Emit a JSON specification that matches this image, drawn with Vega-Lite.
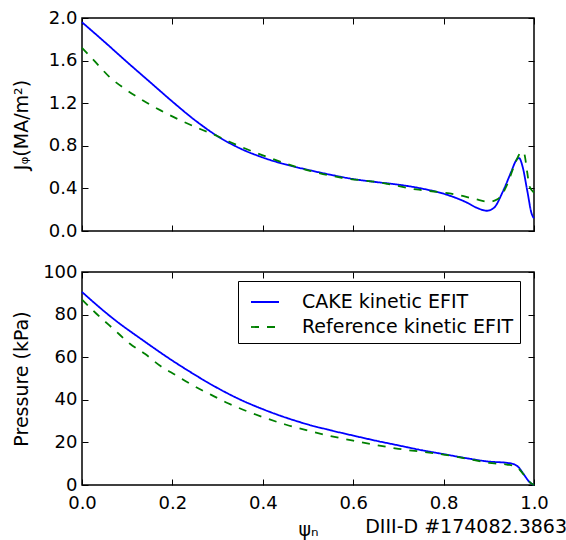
{
  "$schema": "https://vega.github.io/schema/vega-lite/v6.json",
  "padding": {"left": 11, "top": 8, "right": 0, "bottom": 0},
  "background": "white",
  "config": {
    "font": "DejaVu Sans",
    "view": {"stroke": "black", "strokeWidth": 1.5},
    "axis": {
      "domain": false, "grid": false, "tickSize": -6, "tickColor": "black", "tickWidth": 1,
      "labelFont": "DejaVu Sans", "labelFontSize": 18, "labelColor": "black", "labelPadding": 11,
      "labelFlush": false, "labelOverlap": false,
      "titleFont": "DejaVu Sans", "titleFontSize": 19, "titleFontWeight": "normal", "titleColor": "black"
    },
    "legend": {"labelFont": "DejaVu Sans", "labelFontSize": 19, "labelColor": "black"}
  },
  "resolve": {"scale": {"color": "independent", "strokeDash": "independent"}, "legend": {"color": "independent", "strokeDash": "independent"}},
  "datasets": {
    "j": [
      {"psi": 0.0, "J": 1.96, "series": "CAKE kinetic EFIT"},
      {"psi": 0.05, "J": 1.775, "series": "CAKE kinetic EFIT"},
      {"psi": 0.1, "J": 1.585, "series": "CAKE kinetic EFIT"},
      {"psi": 0.15, "J": 1.4, "series": "CAKE kinetic EFIT"},
      {"psi": 0.2, "J": 1.215, "series": "CAKE kinetic EFIT"},
      {"psi": 0.25, "J": 1.04, "series": "CAKE kinetic EFIT"},
      {"psi": 0.3, "J": 0.89, "series": "CAKE kinetic EFIT"},
      {"psi": 0.35, "J": 0.775, "series": "CAKE kinetic EFIT"},
      {"psi": 0.4, "J": 0.69, "series": "CAKE kinetic EFIT"},
      {"psi": 0.45, "J": 0.625, "series": "CAKE kinetic EFIT"},
      {"psi": 0.5, "J": 0.574, "series": "CAKE kinetic EFIT"},
      {"psi": 0.55, "J": 0.528, "series": "CAKE kinetic EFIT"},
      {"psi": 0.6, "J": 0.488, "series": "CAKE kinetic EFIT"},
      {"psi": 0.65, "J": 0.46, "series": "CAKE kinetic EFIT"},
      {"psi": 0.7, "J": 0.435, "series": "CAKE kinetic EFIT"},
      {"psi": 0.75, "J": 0.4, "series": "CAKE kinetic EFIT"},
      {"psi": 0.8, "J": 0.35, "series": "CAKE kinetic EFIT"},
      {"psi": 0.85, "J": 0.27, "series": "CAKE kinetic EFIT"},
      {"psi": 0.875, "J": 0.215, "series": "CAKE kinetic EFIT"},
      {"psi": 0.896, "J": 0.19, "series": "CAKE kinetic EFIT"},
      {"psi": 0.912, "J": 0.22, "series": "CAKE kinetic EFIT"},
      {"psi": 0.93, "J": 0.36, "series": "CAKE kinetic EFIT"},
      {"psi": 0.95, "J": 0.56, "series": "CAKE kinetic EFIT"},
      {"psi": 0.96, "J": 0.66, "series": "CAKE kinetic EFIT"},
      {"psi": 0.967, "J": 0.685, "series": "CAKE kinetic EFIT"},
      {"psi": 0.975, "J": 0.6, "series": "CAKE kinetic EFIT"},
      {"psi": 0.985, "J": 0.38, "series": "CAKE kinetic EFIT"},
      {"psi": 0.995, "J": 0.16, "series": "CAKE kinetic EFIT"},
      {"psi": 1.0, "J": 0.12, "series": "CAKE kinetic EFIT"},
      {"psi": 0.0, "J": 1.72, "series": "Reference kinetic EFIT"},
      {"psi": 0.03, "J": 1.585, "series": "Reference kinetic EFIT"},
      {"psi": 0.06, "J": 1.45, "series": "Reference kinetic EFIT"},
      {"psi": 0.1, "J": 1.32, "series": "Reference kinetic EFIT"},
      {"psi": 0.135, "J": 1.225, "series": "Reference kinetic EFIT"},
      {"psi": 0.175, "J": 1.13, "series": "Reference kinetic EFIT"},
      {"psi": 0.215, "J": 1.045, "series": "Reference kinetic EFIT"},
      {"psi": 0.26, "J": 0.96, "series": "Reference kinetic EFIT"},
      {"psi": 0.3, "J": 0.89, "series": "Reference kinetic EFIT"},
      {"psi": 0.325, "J": 0.84, "series": "Reference kinetic EFIT"},
      {"psi": 0.4, "J": 0.71, "series": "Reference kinetic EFIT"},
      {"psi": 0.45, "J": 0.635, "series": "Reference kinetic EFIT"},
      {"psi": 0.5, "J": 0.57, "series": "Reference kinetic EFIT"},
      {"psi": 0.575, "J": 0.5, "series": "Reference kinetic EFIT"},
      {"psi": 0.66, "J": 0.455, "series": "Reference kinetic EFIT"},
      {"psi": 0.74, "J": 0.39, "series": "Reference kinetic EFIT"},
      {"psi": 0.79, "J": 0.365, "series": "Reference kinetic EFIT"},
      {"psi": 0.83, "J": 0.34, "series": "Reference kinetic EFIT"},
      {"psi": 0.87, "J": 0.3, "series": "Reference kinetic EFIT"},
      {"psi": 0.9, "J": 0.275, "series": "Reference kinetic EFIT"},
      {"psi": 0.92, "J": 0.3, "series": "Reference kinetic EFIT"},
      {"psi": 0.94, "J": 0.43, "series": "Reference kinetic EFIT"},
      {"psi": 0.955, "J": 0.6, "series": "Reference kinetic EFIT"},
      {"psi": 0.965, "J": 0.7, "series": "Reference kinetic EFIT"},
      {"psi": 0.972, "J": 0.745, "series": "Reference kinetic EFIT"},
      {"psi": 0.978, "J": 0.73, "series": "Reference kinetic EFIT"},
      {"psi": 0.985, "J": 0.55, "series": "Reference kinetic EFIT"},
      {"psi": 0.99, "J": 0.42, "series": "Reference kinetic EFIT"},
      {"psi": 1.0, "J": 0.36, "series": "Reference kinetic EFIT"}
    ],
    "p": [
      {"psi": 0.0, "P": 90.6, "series": "CAKE kinetic EFIT"},
      {"psi": 0.069, "P": 78.1, "series": "CAKE kinetic EFIT"},
      {"psi": 0.135, "P": 67.9, "series": "CAKE kinetic EFIT"},
      {"psi": 0.2, "P": 58.4, "series": "CAKE kinetic EFIT"},
      {"psi": 0.24, "P": 53.0, "series": "CAKE kinetic EFIT"},
      {"psi": 0.3, "P": 45.5, "series": "CAKE kinetic EFIT"},
      {"psi": 0.35, "P": 40.1, "series": "CAKE kinetic EFIT"},
      {"psi": 0.4, "P": 35.6, "series": "CAKE kinetic EFIT"},
      {"psi": 0.45, "P": 31.7, "series": "CAKE kinetic EFIT"},
      {"psi": 0.5, "P": 28.4, "series": "CAKE kinetic EFIT"},
      {"psi": 0.55, "P": 25.7, "series": "CAKE kinetic EFIT"},
      {"psi": 0.6, "P": 23.2, "series": "CAKE kinetic EFIT"},
      {"psi": 0.65, "P": 20.8, "series": "CAKE kinetic EFIT"},
      {"psi": 0.7, "P": 18.6, "series": "CAKE kinetic EFIT"},
      {"psi": 0.75, "P": 16.4, "series": "CAKE kinetic EFIT"},
      {"psi": 0.8, "P": 14.5, "series": "CAKE kinetic EFIT"},
      {"psi": 0.85, "P": 12.6, "series": "CAKE kinetic EFIT"},
      {"psi": 0.9, "P": 11.0, "series": "CAKE kinetic EFIT"},
      {"psi": 0.94, "P": 10.4, "series": "CAKE kinetic EFIT"},
      {"psi": 0.955, "P": 9.8, "series": "CAKE kinetic EFIT"},
      {"psi": 0.965, "P": 8.5, "series": "CAKE kinetic EFIT"},
      {"psi": 0.977, "P": 5.1, "series": "CAKE kinetic EFIT"},
      {"psi": 0.99, "P": 1.4, "series": "CAKE kinetic EFIT"},
      {"psi": 1.0, "P": 0.0, "series": "CAKE kinetic EFIT"},
      {"psi": 0.0, "P": 87.0, "series": "Reference kinetic EFIT"},
      {"psi": 0.032, "P": 80.4, "series": "Reference kinetic EFIT"},
      {"psi": 0.073, "P": 72.6, "series": "Reference kinetic EFIT"},
      {"psi": 0.106, "P": 66.3, "series": "Reference kinetic EFIT"},
      {"psi": 0.139, "P": 61.6, "series": "Reference kinetic EFIT"},
      {"psi": 0.172, "P": 56.1, "series": "Reference kinetic EFIT"},
      {"psi": 0.209, "P": 51.4, "series": "Reference kinetic EFIT"},
      {"psi": 0.246, "P": 46.7, "series": "Reference kinetic EFIT"},
      {"psi": 0.286, "P": 42.3, "series": "Reference kinetic EFIT"},
      {"psi": 0.323, "P": 38.4, "series": "Reference kinetic EFIT"},
      {"psi": 0.4, "P": 31.9, "series": "Reference kinetic EFIT"},
      {"psi": 0.45, "P": 28.4, "series": "Reference kinetic EFIT"},
      {"psi": 0.5, "P": 25.5, "series": "Reference kinetic EFIT"},
      {"psi": 0.6, "P": 20.8, "series": "Reference kinetic EFIT"},
      {"psi": 0.7, "P": 17.0, "series": "Reference kinetic EFIT"},
      {"psi": 0.8, "P": 14.3, "series": "Reference kinetic EFIT"},
      {"psi": 0.85, "P": 12.4, "series": "Reference kinetic EFIT"},
      {"psi": 0.9, "P": 10.4, "series": "Reference kinetic EFIT"},
      {"psi": 0.94, "P": 9.6, "series": "Reference kinetic EFIT"},
      {"psi": 0.96, "P": 8.8, "series": "Reference kinetic EFIT"},
      {"psi": 0.975, "P": 5.5, "series": "Reference kinetic EFIT"},
      {"psi": 0.99, "P": 1.5, "series": "Reference kinetic EFIT"},
      {"psi": 1.0, "P": 0.0, "series": "Reference kinetic EFIT"}
    ]
  },
  "spacing": 21,
  "vconcat": [
    {
      "width": 452,
      "height": 213,
      "data": {"name": "j"},
      "layer": [
        {
          "mark": {"type": "line", "strokeWidth": 1.8, "interpolate": "monotone"},
          "encoding": {
            "x": {"field": "psi", "type": "quantitative", "scale": {"domain": [0, 1], "nice": false},
                  "axis": {"orient": "bottom", "labels": false, "title": null, "values": [0, 0.2, 0.4, 0.6, 0.8, 1.0], "minExtent": 0, "maxExtent": 0}},
            "y": {"field": "J", "type": "quantitative", "scale": {"domain": [0, 2], "nice": false},
                  "axis": {"orient": "left", "title": "Jᵩ(MA/m²)", "values": [0, 0.4, 0.8, 1.2, 1.6, 2.0], "format": ".1f", "minExtent": 42, "maxExtent": 42, "titlePadding": 9}},
            "color": {"field": "series", "type": "nominal", "scale": {"domain": ["CAKE kinetic EFIT", "Reference kinetic EFIT"], "range": ["#0000ff", "#008000"]}, "legend": null},
            "strokeDash": {"field": "series", "type": "nominal", "scale": {"domain": ["CAKE kinetic EFIT", "Reference kinetic EFIT"], "range": [[1, 0], [8, 8]]}, "legend": null}
          }
        },
        {
          "mark": {"type": "line", "opacity": 0},
          "encoding": {
            "x": {"field": "psi", "type": "quantitative", "axis": {"orient": "top", "labels": false, "title": null, "values": [0, 0.2, 0.4, 0.6, 0.8, 1.0], "minExtent": 0, "maxExtent": 0}},
            "y": {"field": "J", "type": "quantitative", "axis": {"orient": "right", "labels": false, "title": null, "values": [0, 0.4, 0.8, 1.2, 1.6, 2.0], "minExtent": 0, "maxExtent": 0}},
            "detail": {"field": "series"}
          }
        }
      ],
      "resolve": {"axis": {"x": "independent", "y": "independent"}}
    },
    {
      "width": 452,
      "height": 213,
      "data": {"name": "p"},
      "title": {"text": "DIII-D #174082.3863", "orient": "bottom", "anchor": "end", "frame": "group", "fontSize": 19, "fontWeight": "normal", "font": "DejaVu Sans", "color": "black", "dx": 33, "offset": -21},
      "layer": [
        {
          "mark": {"type": "line", "strokeWidth": 1.8, "interpolate": "monotone"},
          "encoding": {
            "x": {"field": "psi", "type": "quantitative", "scale": {"domain": [0, 1], "nice": false},
                  "axis": {"orient": "bottom", "title": "ψₙ", "values": [0, 0.2, 0.4, 0.6, 0.8, 1.0], "format": ".1f", "labelPadding": 15, "titlePadding": 8}},
            "y": {"field": "P", "type": "quantitative", "scale": {"domain": [0, 100], "nice": false},
                  "axis": {"orient": "left", "title": "Pressure (kPa)", "values": [0, 20, 40, 60, 80, 100], "minExtent": 42, "maxExtent": 42, "titlePadding": 9}},
            "color": {"field": "series", "type": "nominal", "title": null, "scale": {"domain": ["CAKE kinetic EFIT", "Reference kinetic EFIT"], "range": ["#0000ff", "#008000"]},
                      "legend": {"orient": "none", "legendX": 156, "legendY": 9, "title": null, "symbolType": "stroke", "symbolSize": 784, "symbolStrokeWidth": 1.8, "symbolOffset": 6, "labelOffset": 22, "padding": 6, "rowPadding": 0, "strokeColor": "black", "fillColor": "white", "labelLimit": 400}},
            "strokeDash": {"field": "series", "type": "nominal", "title": null, "scale": {"domain": ["CAKE kinetic EFIT", "Reference kinetic EFIT"], "range": [[1, 0], [8, 8]]},
                      "legend": {"orient": "none", "legendX": 156, "legendY": 9, "title": null, "symbolType": "stroke", "symbolSize": 784, "symbolStrokeWidth": 1.8, "symbolOffset": 6, "labelOffset": 22, "padding": 6, "rowPadding": 0, "strokeColor": "black", "fillColor": "white", "labelLimit": 400}}
          }
        },
        {
          "mark": {"type": "line", "opacity": 0},
          "encoding": {
            "x": {"field": "psi", "type": "quantitative", "axis": {"orient": "top", "labels": false, "title": null, "values": [0, 0.2, 0.4, 0.6, 0.8, 1.0], "minExtent": 0, "maxExtent": 0}},
            "y": {"field": "P", "type": "quantitative", "axis": {"orient": "right", "labels": false, "title": null, "values": [0, 20, 40, 60, 80, 100], "minExtent": 0, "maxExtent": 0}},
            "detail": {"field": "series"}
          }
        }
      ],
      "resolve": {"axis": {"x": "independent", "y": "independent"}}
    }
  ]
}
